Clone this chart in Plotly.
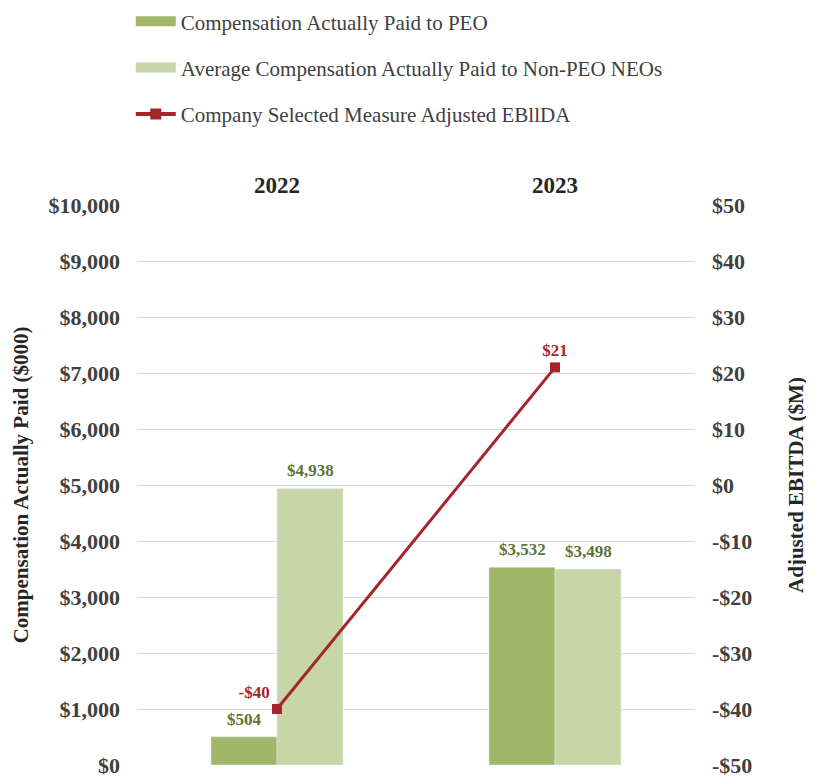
import plotly.graph_objects as go

years = ["2022", "2023"]
peo_cap = [504, 3532]
neo_cap = [4938, 3498]
ebitda = [-40, 21]

left_ticks = [0, 1000, 2000, 3000, 4000, 5000, 6000, 7000, 8000, 9000, 10000]
left_labels = ["$0", "$1,000", "$2,000", "$3,000", "$4,000", "$5,000",
               "$6,000", "$7,000", "$8,000", "$9,000", "$10,000"]
right_ticks = [-50, -40, -30, -20, -10, 0, 10, 20, 30, 40, 50]
right_labels = ["-$50", "-$40", "-$30", "-$20", "-$10", "$0",
                "$10", "$20", "$30", "$40", "$50"]

SERIF = "Liberation Serif"
PEO_COLOR = "#a0b769"
NEO_COLOR = "#c8d6a7"
LINE_COLOR = "#a4262c"
LABEL_GREEN = "#5c7437"
TICK_SIZE = 22

fig = go.Figure()

fig.add_trace(go.Bar(
    x=years, y=peo_cap,
    name="Compensation Actually Paid to PEO",
    marker_color=PEO_COLOR,
    showlegend=False,
))
fig.add_trace(go.Bar(
    x=years, y=neo_cap,
    name="Average Compensation Actually Paid to Non-PEO NEOs",
    marker_color=NEO_COLOR,
    showlegend=False,
))
fig.add_trace(go.Scatter(
    x=years, y=ebitda,
    name="Company Selected Measure Adjusted EBllDA",
    mode="lines+markers+text",
    line=dict(color=LINE_COLOR, width=3),
    marker=dict(symbol="square", size=10, color=LINE_COLOR),
    text=[("-$" if v < 0 else "$") + str(abs(v)) for v in ebitda],
    textposition=["top left", "top center"],
    textfont=dict(family=SERIF, size=17, color=LINE_COLOR, weight="bold"),
    yaxis="y2",
    cliponaxis=False,
    showlegend=False,
))

# bar value labels sit a little higher above the bars than plotly's default
# (category axis: annotations use the category index)
for values, shift in [(peo_cap, -33), (neo_cap, 33)]:
    for i, v in enumerate(values):
        fig.add_annotation(
            x=i, y=v, xref="x", yref="y",
            text=f"${v:,}", showarrow=False,
            xshift=shift, yshift=6, yanchor="bottom",
            font=dict(family=SERIF, size=17, color=LABEL_GREEN, weight="bold"),
        )

# legend entries drawn as wide swatches like the original
legend_items = [
    ("Compensation Actually Paid to PEO", PEO_COLOR, 10, "lines"),
    ("Average Compensation Actually Paid to Non-PEO NEOs", NEO_COLOR, 10, "lines"),
    ("Company Selected Measure Adjusted EBllDA", LINE_COLOR, 4, "lines+markers"),
]
for i, (name, color, w, mode) in enumerate(legend_items):
    fig.add_trace(go.Scatter(
        x=[None], y=[None], name=name, mode=mode,
        line=dict(color=color, width=w),
        marker=dict(symbol="square", size=11, color=color),
        legendgroup=str(i),
    ))

fig.update_layout(
    width=814, height=778,
    margin=dict(l=130, r=128, t=197, b=21, autoexpand=False),
    plot_bgcolor="white",
    paper_bgcolor="white",
    font=dict(family=SERIF, color="#404040"),
    barmode="group",
    bargap=0.525,
    bargroupgap=0,
    xaxis=dict(
        type="category",
        range=[-0.5, 1.5],
        side="top",
        showgrid=False,
        showline=False,
        tickfont=dict(family=SERIF, size=23, color="#262626", weight="bold"),
        ticklabelstandoff=6,
    ),
    yaxis=dict(
        range=[0, 10000],
        tickvals=left_ticks,
        ticktext=left_labels,
        gridcolor="#d9d9d9",
        gridwidth=1,
        zeroline=False,
        showline=False,
        tickfont=dict(family=SERIF, size=TICK_SIZE, color="#404040", weight="bold"),
        ticklabelstandoff=17,
        title=dict(text="Compensation Actually Paid ($000)",
                   font=dict(family=SERIF, size=21, color="#262626", weight="bold"),
                   standoff=14),
    ),
    yaxis2=dict(
        range=[-50, 50],
        tickvals=right_ticks,
        ticktext=right_labels,
        overlaying="y",
        side="right",
        showgrid=False,
        zeroline=False,
        showline=False,
        tickfont=dict(family=SERIF, size=TICK_SIZE, color="#404040", weight="bold"),
        ticklabelstandoff=17,
        title=dict(text="Adjusted EBITDA ($M)",
                   font=dict(family=SERIF, size=21, color="#262626", weight="bold"),
                   standoff=36),
    ),
    legend=dict(
        x=-0.013, y=1.364, xanchor="left", yanchor="top",
        traceorder="grouped",
        tracegroupgap=16,
        itemwidth=40,
        font=dict(family=SERIF, size=21, color="#404040"),
        bgcolor="rgba(0,0,0,0)",
    ),
)

fig.write_html("out.html")
